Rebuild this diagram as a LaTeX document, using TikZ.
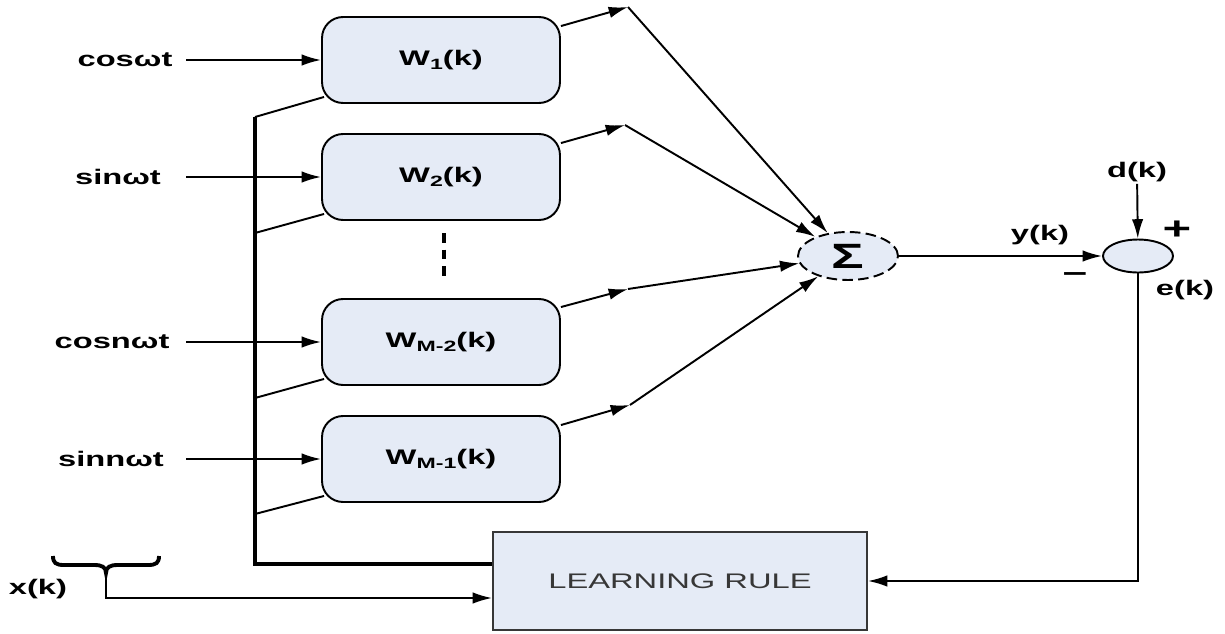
\documentclass[tikz,border=0pt]{standalone}
\usepackage{fontspec}
\setmainfont{Liberation Sans}[FakeStretch=1.55]
\usetikzlibrary{arrows.meta,shapes.geometric,calc}
\definecolor{boxfill}{RGB}{229,235,246}
\definecolor{rulegray}{RGB}{55,55,55}
\newcommand\wsub[1]{\raisebox{-0.35ex}{\fontsize{8.5}{9}\selectfont #1}}

\begin{document}
\begin{tikzpicture}[x=0.02cm,y=-0.02cm,
  font=\fontsize{12}{14}\selectfont\bfseries,
  line/.style={line width=1.1pt},
  bus/.style={line width=1.8pt},
  arr/.style={line width=1.1pt,-{Latex[length=11pt,width=6.5pt]}},
  wbox/.style={draw,line width=1.1pt,fill=boxfill,rounded corners=0.42cm,
    minimum width=4.76cm,minimum height=1.72cm,inner sep=0pt},
  rulebox/.style={draw=rulegray,line width=1.1pt,fill=boxfill,
    minimum width=7.48cm,minimum height=1.96cm,inner sep=0pt,
    font=\fontsize{12}{14}\selectfont\mdseries,text=rulegray},
  sumnode/.style={draw,dash pattern=on 6pt off 3pt,line width=1.1pt,ellipse,fill=boxfill,
    minimum width=2cm,minimum height=0.96cm,inner sep=0pt},
  cmpnode/.style={draw,line width=1.1pt,ellipse,fill=boxfill,
    minimum width=1.4cm,minimum height=0.66cm,inner sep=0pt},
  lab/.style={inner sep=1pt}]
\useasboundingbox (0,0) rectangle (1225,633);

% weight blocks
\node[wbox] (w1)  at (441,60)  {W\wsub{1}(k)};
\node[wbox] (w2)  at (441,177) {W\wsub{2}(k)};
\node[wbox] (wm2) at (441,342) {W\wsub{M-2}(k)};
\node[wbox] (wm1) at (441,459) {W\wsub{M-1}(k)};

% learning rule block
\node[rulebox] (lr) at (680,581) {LEARNING RULE};

% summing junction and error comparator
\node[sumnode] (sum) at (848,256) {\fontsize{20}{20}\selectfont Σ};
\node[cmpnode] (cmp) at (1138,256) {};

% reference inputs
\node[lab] (lcos)  at (125,60)  {cosωt};
\node[lab] (lsin)  at (118,177) {sinωt};
\node[lab] (lcosn) at (112,342) {cosnωt};
\node[lab] (lsinn) at (111,459) {sinnωt};
\coordinate (c1) at (186,60);
\coordinate (c2) at (186,177);
\coordinate (c3) at (186,342);
\coordinate (c4) at (186,459);
\draw[arr] (c1) -- (w1.west);
\draw[arr] (c2) -- (w2.west);
\draw[arr] (c3) -- (wm2.west);
\draw[arr] (c4) -- (wm1.west);

% input vector bus
\coordinate (t1) at (255,117);
\coordinate (t2) at (255,233);
\coordinate (t3) at (255,398);
\coordinate (t4) at (255,514);
\coordinate (tb) at (255,564);
\draw[bus] (t1) -- (tb) -- (tb -| lr.west);
\draw[line] (t2) -- ($(w2.south west)+(3,-7)$);
\draw[line] (t1) -- ($(w1.south west)+(3,-7)$);
\draw[line] (t3) -- ($(wm2.south west)+(3,-7)$);
\draw[line] (t4) -- ($(wm1.south west)+(3,-7)$);

% ellipsis between the blocks
\draw[line width=1.8pt,dash pattern=on 5.5pt off 4pt] (444,233) -- (444,279);

% weighted outputs into the sum
\coordinate (m1) at (628,7);
\coordinate (m2) at (625,125);
\coordinate (m3) at (628,289);
\coordinate (m4) at (630,405);
\draw[arr] ($(w1.north east)+(0,10)$) -- (m1);
\draw[arr] ($(w2.north east)+(0,10)$) -- (m2);
\draw[arr] ($(wm2.north east)+(0,9)$) -- (m3);
\draw[arr] ($(wm1.north east)+(0,10)$) -- (m4);
\draw[arr] (m1) -- (sum);
\draw[arr] (m2) -- (sum);
\draw[arr] (m3) -- (sum);
\draw[arr] (m4) -- (sum);

% output and error
\draw[arr] (sum) -- (cmp);
\node[lab] (yk) at (1040,235) {y(k)};
\node[lab] (dk) at (1137,172) {d(k)};
\node[lab] (ek) at (1185,290) {e(k)};
\node[lab] (plus)  at (1177,230) {\fontsize{18}{18}\selectfont +};
\node[lab] (minus) at (1075,277) {\fontsize{16}{16}\selectfont –};
\draw[arr] (dk) -- (cmp);
\draw[arr] (cmp) |- (lr.east);

% x(k) brace and its connection
\draw[line width=2.2pt] (53,556) .. controls (53,563) and (56,565) .. (64,565)
  -- (94,565) .. controls (102,565) and (106,567) .. (106,573)
  .. controls (106,567) and (110,565) .. (118,565)
  -- (148,565) .. controls (156,565) and (159,563) .. (159,556);
\coordinate (xt) at (106,573);
\node[lab] (xk) at (38,589) {x(k)};
\draw[arr] (xt) |- ($(lr.west)+(0,17)$);
\end{tikzpicture}
\end{document}
